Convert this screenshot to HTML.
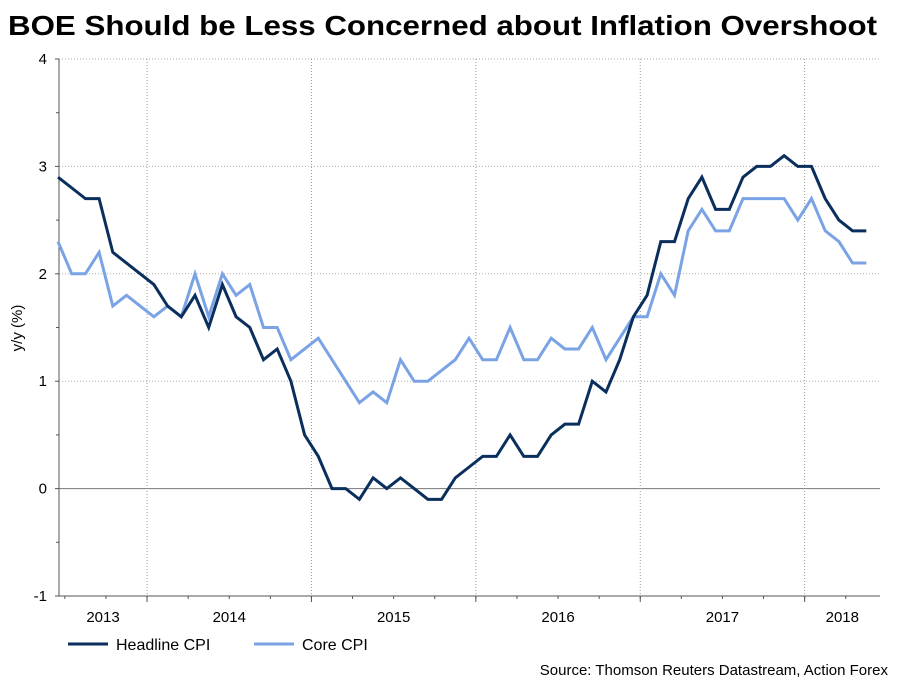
<!DOCTYPE html>
<html><head><meta charset="utf-8"><style>
body{margin:0;background:#fff;}
svg{display:block;font-family:"Liberation Sans",Arial,sans-serif;}
</style></head><body>
<svg width="909" height="682" viewBox="0 0 909 682">
<text x="8" y="35" font-size="28" font-weight="bold" textLength="869" lengthAdjust="spacingAndGlyphs">BOE Should be Less Concerned about Inflation Overshoot</text>
<g id="grid"></g>
<g id="axes"></g>
<g id="series"></g>
<text transform="translate(22,328) rotate(-90)" text-anchor="middle" font-size="15">y/y (%)</text>
<g>
<g><line x1="68" y1="644" x2="108" y2="644" stroke="#0a2f5c" stroke-width="3"/><text x="116" y="650" font-size="16">Headline CPI</text></g>
<g><line x1="254" y1="644" x2="294" y2="644" stroke="#7aa3e6" stroke-width="3"/><text x="302" y="650" font-size="16">Core CPI</text></g>
</g>
<text x="888" y="675" text-anchor="end" font-size="15">Source: Thomson Reuters Datastream, Action Forex</text>
</svg>
<script>
const yearLabels=["2013","2014","2015","2016","2017","2018"];
const yTicks=[-1,0,1,2,3,4];
const headline=[2.9,2.8,2.7,2.7,2.2,2.1,2.0,
1.9,1.7,1.6,1.8,1.5,1.9,1.6,1.5,1.2,1.3,1.0,0.5,
0.3,0.0,0.0,-0.1,0.1,0.0,0.1,0.0,-0.1,-0.1,0.1,0.2,
0.3,0.3,0.5,0.3,0.3,0.5,0.6,0.6,1.0,0.9,1.2,1.6,
1.8,2.3,2.3,2.7,2.9,2.6,2.6,2.9,3.0,3.0,3.1,3.0,
3.0,2.7,2.5,2.4,2.4];
const core=[2.3,2.0,2.0,2.2,1.7,1.8,1.7,
1.6,1.7,1.6,2.0,1.6,2.0,1.8,1.9,1.5,1.5,1.2,1.3,
1.4,1.2,1.0,0.8,0.9,0.8,1.2,1.0,1.0,1.1,1.2,1.4,
1.2,1.2,1.5,1.2,1.2,1.4,1.3,1.3,1.5,1.2,1.4,1.6,
1.6,2.0,1.8,2.4,2.6,2.4,2.4,2.7,2.7,2.7,2.7,2.5,
2.7,2.4,2.3,2.1,2.1];
const NS="http://www.w3.org/2000/svg";
const L=59,R=880,T=59,B=596,X0=58,DX=13.7,START_MONTH=5;
const y=v=>T+(4-v)*(B-T)/5;
const x=i=>X0+i*DX;
const boundary=yr=>x(yr*12-START_MONTH)-DX/2;
function mk(tag,attrs,parent){const e=document.createElementNS(NS,tag);for(const k in attrs)e.setAttribute(k,attrs[k]);parent.appendChild(e);return e;}
const grid=document.getElementById('grid'),axes=document.getElementById('axes'),series=document.getElementById('series');
yTicks.forEach(v=>{
 if(v===0){const l=mk('line',{x1:L,x2:R,y1:y(v),y2:y(v),stroke:'#777','stroke-width':1},grid);}
 else if(v>0){const l=mk('line',{x1:L,x2:R,y1:y(v),y2:y(v),stroke:'#aaa','stroke-width':1,'stroke-dasharray':'1,2'},grid);}
 const t=mk('text',{x:L-12,y:y(v)+5,'text-anchor':'end','font-size':15},axes);t.textContent=String(v);
 
 
 mk('line',{x1:L-4,x2:L,y1:y(v),y2:y(v),stroke:'#555'},axes);
 if(v<4)mk('line',{x1:L-3,x2:L,y1:y(v+0.5),y2:y(v+0.5),stroke:'#555'},axes);
});
for(let k=1;k<yearLabels.length;k++){
 const bx=boundary(k);
 const l=mk('line',{x1:bx,x2:bx,y1:T,y2:B,stroke:'#999','stroke-width':1,'stroke-dasharray':'1,2'},grid);
 
 
 mk('line',{x1:bx,x2:bx,y1:B,y2:B+6,stroke:'#555'},axes);
}
for(let q=-2;q<24;q++){const qx=boundary(0)+q*3*DX; if(qx>L&&qx<R)mk('line',{x1:qx,x2:qx,y1:B,y2:B+3,stroke:'#555'},axes);}
yearLabels.forEach((lab,k)=>{
 const a=Math.max(L,boundary(k)),b=Math.min(R,boundary(k+1));
 const t=mk('text',{x:(a+b)/2,y:622,'text-anchor':'middle','font-size':15},axes);t.textContent=lab;
 
 
});
mk('line',{x1:L,x2:L,y1:T,y2:B,stroke:'#555'},axes);
mk('line',{x1:L,x2:R,y1:B,y2:B,stroke:'#555'},axes);
function draw(data,color,name){
 const p=mk('polyline',{points:data.map((v,i)=>x(i)+','+y(v)).join(' '),fill:'none',stroke:color,'stroke-width':3,'stroke-linejoin':'miter'},series);
 
 
}
draw(core,'#7aa3e6','core-cpi-line');
draw(headline,'#0a2f5c','headline-cpi-line');
</script>
</body></html>
